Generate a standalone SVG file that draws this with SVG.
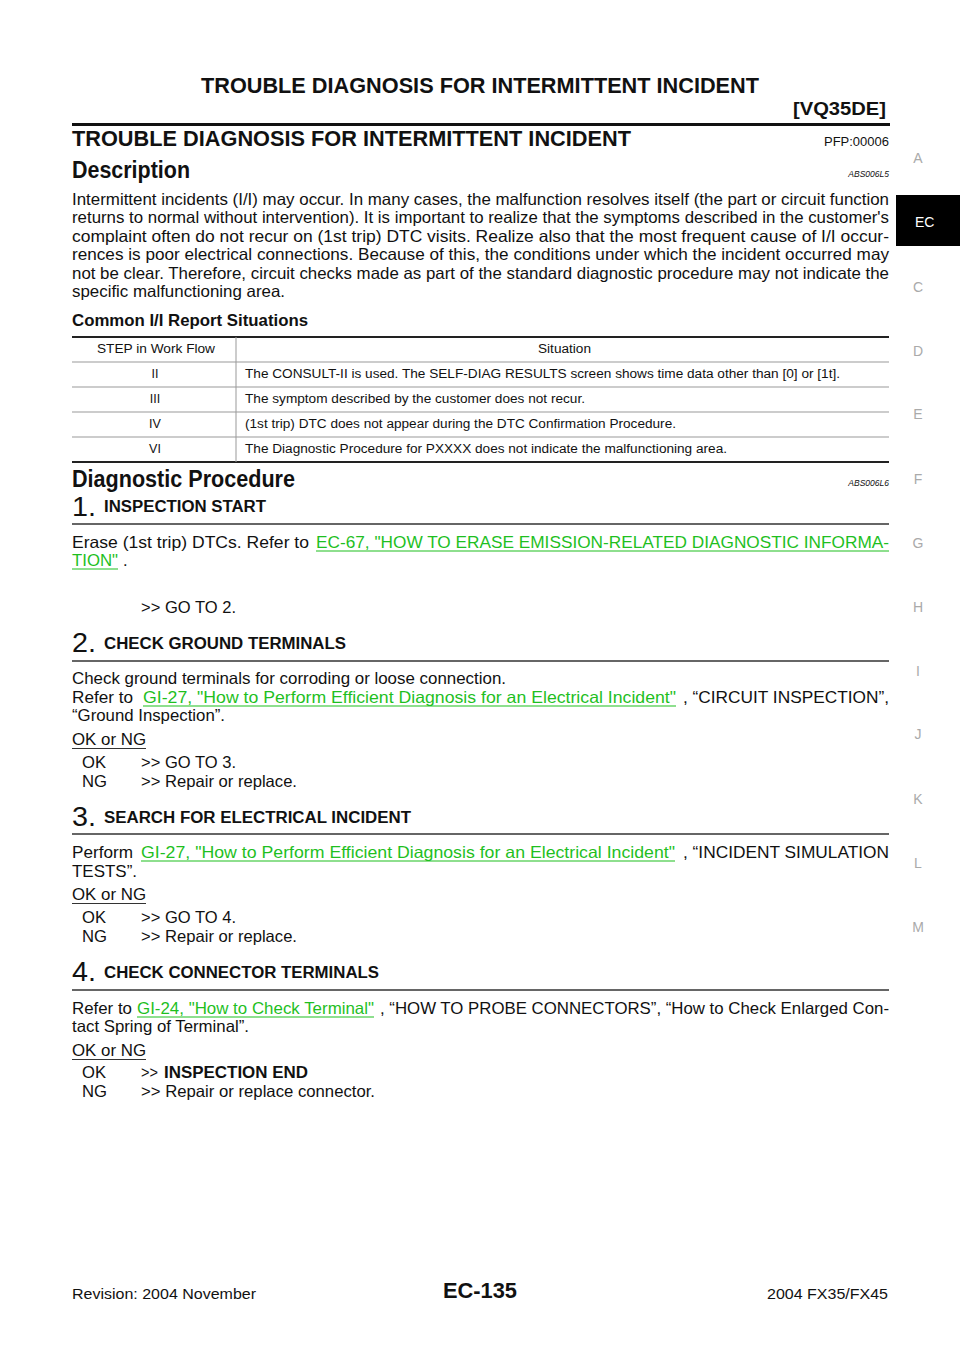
<svg xmlns="http://www.w3.org/2000/svg" width="960" height="1358" viewBox="0 0 960 1358">
<style>
text{font-family:"Liberation Sans",Arial,sans-serif;fill:#111;}
.b{font-weight:bold;}
.body{font-size:16.5px;}
.tbl{font-size:12.5px;}
.lnk{fill:#1fbf1f;}
.ul{stroke:#1fbf1f;stroke-width:1.2;}
.num{font-size:27px;}
.sh{font-size:16px;font-weight:bold;}
.rule{stroke:#333;stroke-width:1.6;}
.side{font-size:14px;fill:#aaa;text-anchor:middle;}
.code{font-size:8.5px;font-style:italic;text-anchor:end;}
.tl{stroke:#999;stroke-width:1;}
</style>
<rect width="960" height="1358" fill="#fff"/>
<g id="header">
<text class="b" x="201" y="93" font-size="21.5" textLength="558" lengthAdjust="spacingAndGlyphs">TROUBLE DIAGNOSIS FOR INTERMITTENT INCIDENT</text>
<text class="b" x="793" y="115" font-size="19" textLength="93" lengthAdjust="spacingAndGlyphs">[VQ35DE]</text>
<line x1="72" y1="124.5" x2="890" y2="124.5" stroke="#111" stroke-width="3"/>
<text class="b" x="72" y="146" font-size="21.5" textLength="559" lengthAdjust="spacingAndGlyphs">TROUBLE DIAGNOSIS FOR INTERMITTENT INCIDENT</text>
<text x="824" y="146" font-size="12" textLength="65" lengthAdjust="spacingAndGlyphs">PFP:00006</text>
</g>
<g id="sidetabs">
<text class="side" x="918" y="163">A</text>
<rect x="896" y="195" width="64" height="51" fill="#000"/>
<text x="915" y="227" font-size="14" fill="#fff" style="fill:#fff">EC</text>
<text class="side" x="918" y="292">C</text>
<text class="side" x="918" y="356">D</text>
<text class="side" x="918" y="419">E</text>
<text class="side" x="918" y="484">F</text>
<text class="side" x="918" y="548">G</text>
<text class="side" x="918" y="612">H</text>
<text class="side" x="918" y="676">I</text>
<text class="side" x="918" y="739">J</text>
<text class="side" x="918" y="804">K</text>
<text class="side" x="918" y="868">L</text>
<text class="side" x="918" y="932">M</text>
</g>
<g id="description">
<text class="b" x="72" y="178" font-size="23" textLength="118" lengthAdjust="spacingAndGlyphs">Description</text>
<text class="code" x="889" y="177">ABS006L5</text>
<text class="body" x="72" y="205" textLength="817" lengthAdjust="spacingAndGlyphs">Intermittent incidents (I/I) may occur. In many cases, the malfunction resolves itself (the part or circuit function</text>
<text class="body" x="72" y="223" textLength="817" lengthAdjust="spacingAndGlyphs">returns to normal without intervention). It is important to realize that the symptoms described in the customer's</text>
<text class="body" x="72" y="242" textLength="817" lengthAdjust="spacingAndGlyphs">complaint often do not recur on (1st trip) DTC visits. Realize also that the most frequent cause of I/I occur-</text>
<text class="body" x="72" y="260" textLength="817" lengthAdjust="spacingAndGlyphs">rences is poor electrical connections. Because of this, the conditions under which the incident occurred may</text>
<text class="body" x="72" y="279" textLength="817" lengthAdjust="spacingAndGlyphs">not be clear. Therefore, circuit checks made as part of the standard diagnostic procedure may not indicate the</text>
<text class="body" x="72" y="297" textLength="213" lengthAdjust="spacingAndGlyphs">specific malfunctioning area.</text>
<text class="b" x="72" y="326" font-size="16.5" textLength="236" lengthAdjust="spacingAndGlyphs">Common I/I Report Situations</text>
</g>
<g id="table">
<line x1="72" y1="337" x2="889" y2="337" stroke="#222" stroke-width="2"/>
<line class="tl" x1="72" y1="362" x2="889" y2="362"/>
<line class="tl" x1="72" y1="387" x2="889" y2="387"/>
<line class="tl" x1="72" y1="412" x2="889" y2="412"/>
<line class="tl" x1="72" y1="437" x2="889" y2="437"/>
<line x1="72" y1="462" x2="889" y2="462" stroke="#222" stroke-width="2"/>
<line class="tl" x1="236" y1="337" x2="236" y2="462"/>
<text class="tbl" x="97" y="353" textLength="118" lengthAdjust="spacingAndGlyphs">STEP in Work Flow</text>
<text class="tbl" x="538" y="353" textLength="53" lengthAdjust="spacingAndGlyphs">Situation</text>
<text class="tbl" x="155" y="378" text-anchor="middle">II</text>
<text class="tbl" x="245" y="378" textLength="595" lengthAdjust="spacingAndGlyphs">The CONSULT-II is used. The SELF-DIAG RESULTS screen shows time data other than [0] or [1t].</text>
<text class="tbl" x="155" y="403" text-anchor="middle">III</text>
<text class="tbl" x="245" y="403" textLength="340" lengthAdjust="spacingAndGlyphs">The symptom described by the customer does not recur.</text>
<text class="tbl" x="155" y="428" text-anchor="middle">IV</text>
<text class="tbl" x="245" y="428" textLength="431" lengthAdjust="spacingAndGlyphs">(1st trip) DTC does not appear during the DTC Confirmation Procedure.</text>
<text class="tbl" x="155" y="453" text-anchor="middle">VI</text>
<text class="tbl" x="245" y="453" textLength="482" lengthAdjust="spacingAndGlyphs">The Diagnostic Procedure for PXXXX does not indicate the malfunctioning area.</text>
</g>
<g id="diag-title">
<text class="b" x="72" y="487" font-size="23" textLength="223" lengthAdjust="spacingAndGlyphs">Diagnostic Procedure</text>
<text class="code" x="889" y="486">ABS006L6</text>
</g>
<g id="step1">
<text class="num" x="72" y="516" textLength="24" lengthAdjust="spacingAndGlyphs">1.</text>
<text class="sh" x="104" y="512" textLength="162" lengthAdjust="spacingAndGlyphs">INSPECTION START</text>
<line class="rule" x1="72" y1="524" x2="889" y2="524"/>
<text class="body" x="72" y="548" textLength="237" lengthAdjust="spacingAndGlyphs">Erase (1st trip) DTCs. Refer to</text>
<text class="body lnk" x="316" y="548" textLength="573" lengthAdjust="spacingAndGlyphs">EC-67, "HOW TO ERASE EMISSION-RELATED DIAGNOSTIC INFORMA-</text>
<line class="ul" x1="316" y1="551" x2="889" y2="551"/>
<text class="body lnk" x="72" y="566" textLength="46" lengthAdjust="spacingAndGlyphs">TION"</text>
<line class="ul" x1="72" y1="569" x2="118" y2="569"/>
<text class="body" x="123" y="566">.</text>
<text class="body" x="141" y="613" textLength="95" lengthAdjust="spacingAndGlyphs">&gt;&gt; GO TO 2.</text>
</g>
<g id="step2">
<text class="num" x="72" y="652" textLength="24" lengthAdjust="spacingAndGlyphs">2.</text>
<text class="sh" x="104" y="649" textLength="242" lengthAdjust="spacingAndGlyphs">CHECK GROUND TERMINALS</text>
<line class="rule" x1="72" y1="661" x2="889" y2="661"/>
<text class="body" x="72" y="684" textLength="434" lengthAdjust="spacingAndGlyphs">Check ground terminals for corroding or loose connection.</text>
<text class="body" x="72" y="703" textLength="61" lengthAdjust="spacingAndGlyphs">Refer to</text>
<text class="body lnk" x="143" y="703" textLength="533" lengthAdjust="spacingAndGlyphs">GI-27, "How to Perform Efficient Diagnosis for an Electrical Incident"</text>
<line class="ul" x1="143" y1="706" x2="676" y2="706"/>
<text class="body" x="683" y="703" textLength="206" lengthAdjust="spacingAndGlyphs">, “CIRCUIT INSPECTION”,</text>
<text class="body" x="72" y="721" textLength="153" lengthAdjust="spacingAndGlyphs">“Ground Inspection”.</text>
<text class="body" x="72" y="745" textLength="74" lengthAdjust="spacingAndGlyphs">OK or NG</text>
<line x1="72" y1="748.5" x2="146" y2="748.5" stroke="#333" stroke-width="1.2"/>
<text class="body" x="82" y="768" textLength="24" lengthAdjust="spacingAndGlyphs">OK</text>
<text class="body" x="141" y="768" textLength="95" lengthAdjust="spacingAndGlyphs">&gt;&gt; GO TO 3.</text>
<text class="body" x="82" y="787" textLength="25" lengthAdjust="spacingAndGlyphs">NG</text>
<text class="body" x="141" y="787" textLength="156" lengthAdjust="spacingAndGlyphs">&gt;&gt; Repair or replace.</text>
</g>
<g id="step3">
<text class="num" x="72" y="826" textLength="24" lengthAdjust="spacingAndGlyphs">3.</text>
<text class="sh" x="104" y="823" textLength="307" lengthAdjust="spacingAndGlyphs">SEARCH FOR ELECTRICAL INCIDENT</text>
<line class="rule" x1="72" y1="834" x2="889" y2="834"/>
<text class="body" x="72" y="858" textLength="61" lengthAdjust="spacingAndGlyphs">Perform</text>
<text class="body lnk" x="141" y="858" textLength="534" lengthAdjust="spacingAndGlyphs">GI-27, "How to Perform Efficient Diagnosis for an Electrical Incident"</text>
<line class="ul" x1="141" y1="861" x2="675" y2="861"/>
<text class="body" x="683" y="858" textLength="206" lengthAdjust="spacingAndGlyphs">, “INCIDENT SIMULATION</text>
<text class="body" x="72" y="877" textLength="65" lengthAdjust="spacingAndGlyphs">TESTS”.</text>
<text class="body" x="72" y="900" textLength="74" lengthAdjust="spacingAndGlyphs">OK or NG</text>
<line x1="72" y1="903.5" x2="146" y2="903.5" stroke="#333" stroke-width="1.2"/>
<text class="body" x="82" y="923" textLength="24" lengthAdjust="spacingAndGlyphs">OK</text>
<text class="body" x="141" y="923" textLength="95" lengthAdjust="spacingAndGlyphs">&gt;&gt; GO TO 4.</text>
<text class="body" x="82" y="942" textLength="25" lengthAdjust="spacingAndGlyphs">NG</text>
<text class="body" x="141" y="942" textLength="156" lengthAdjust="spacingAndGlyphs">&gt;&gt; Repair or replace.</text>
</g>
<g id="step4">
<text class="num" x="72" y="981" textLength="24" lengthAdjust="spacingAndGlyphs">4.</text>
<text class="sh" x="104" y="978" textLength="275" lengthAdjust="spacingAndGlyphs">CHECK CONNECTOR TERMINALS</text>
<line class="rule" x1="72" y1="990" x2="889" y2="990"/>
<text class="body" x="72" y="1014" textLength="60" lengthAdjust="spacingAndGlyphs">Refer to</text>
<text class="body lnk" x="137" y="1014" textLength="237" lengthAdjust="spacingAndGlyphs">GI-24, "How to Check Terminal"</text>
<line class="ul" x1="137" y1="1017" x2="374" y2="1017"/>
<text class="body" x="380" y="1014" textLength="509" lengthAdjust="spacingAndGlyphs">, “HOW TO PROBE CONNECTORS”, “How to Check Enlarged Con-</text>
<text class="body" x="72" y="1032" textLength="177" lengthAdjust="spacingAndGlyphs">tact Spring of Terminal”.</text>
<text class="body" x="72" y="1056" textLength="74" lengthAdjust="spacingAndGlyphs">OK or NG</text>
<line x1="72" y1="1059.5" x2="146" y2="1059.5" stroke="#333" stroke-width="1.2"/>
<text class="body" x="82" y="1078" textLength="24" lengthAdjust="spacingAndGlyphs">OK</text>
<text class="body" x="141" y="1078" textLength="17" lengthAdjust="spacingAndGlyphs">&gt;&gt;</text>
<text class="body b" x="164" y="1078" textLength="144" lengthAdjust="spacingAndGlyphs">INSPECTION END</text>
<text class="body" x="82" y="1097" textLength="25" lengthAdjust="spacingAndGlyphs">NG</text>
<text class="body" x="141" y="1097" textLength="234" lengthAdjust="spacingAndGlyphs">&gt;&gt; Repair or replace connector.</text>
</g>
<g id="footer">
<text x="72" y="1299" font-size="15" textLength="184" lengthAdjust="spacingAndGlyphs">Revision: 2004 November</text>
<text class="b" x="443" y="1298" font-size="22" textLength="74" lengthAdjust="spacingAndGlyphs">EC-135</text>
<text x="767" y="1299" font-size="15" textLength="121" lengthAdjust="spacingAndGlyphs">2004 FX35/FX45</text>
</g>
</svg>
